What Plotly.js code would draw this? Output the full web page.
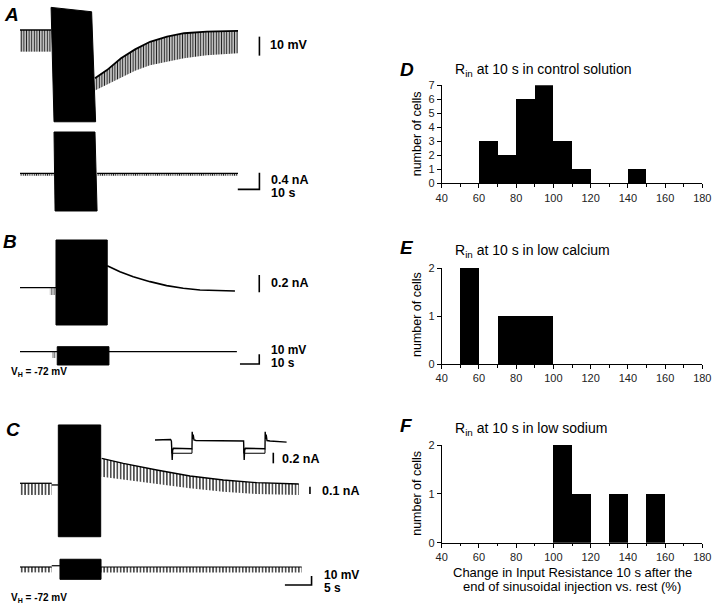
<!DOCTYPE html>
<html><head><meta charset="utf-8">
<script src="https://cdn.plot.ly/plotly-3.0.1.min.js"></script>
<style>html,body{margin:0;padding:0;background:#fff}#chart{width:720px;height:603px}</style>
</head><body><div id="chart"></div>
<script>
// ================= DATA =================
// Histograms D, E, F: change in input resistance (%), bin width 10
const binCenters    = [45,55,65,75,85,95,105,115,125,135,145,155,165,175];
const countsControl = [0,0,3,2,6,7,3,1,0,0,1,0,0,0];
const countsLowCa   = [0,2,0,1,1,1,0,0,0,0,0,0,0,0];
const countsLowNa   = [0,0,0,0,0,0,2,1,0,1,0,1,0,0];
const xTickVals = [40,60,80,100,120,140,160,180];
const yTicksD   = [0,1,2,3,4,5,6,7];
const yTicksEF  = [0,1,2];

// Panel A top: membrane potential (mV rel. to rest) vs time (s)
const aPreT = [0, 14.8];
const aPreTop = [0, 0];
const aPreBot = [-11.4, -11.4];
const aBlockT = [14.8, 34.1, 36.0, 16.2];
const aBlockV = [11.9, 9.6, -48.3, -48.3];
const aPostT   = [35.7, 41.4, 48.1, 54.8, 61.9, 70.0, 78.1, 88.9, 103.8];
const aPostTop = [-25.4, -21.1, -14.9, -10.2, -6.2, -3.5, -1.7, -0.9, -0.5];
const aPostBot = [-31.8, -28.9, -25.2, -21.5, -18.6, -16.7, -14.9, -13.3, -12.3];
const aVBarT = [114, 114], aVBarV = [-3.5, -13.5];
// Panel A bottom: injected current (nA)
const aIPreT = [0, 16.2], aIPostT = [36.7, 103.8];
const aIBase = [0, 0], aIPulse = [-0.06, -0.06];
const aIBlockT = [16.2, 35.7, 36.7, 16.7];
const aIBlockV = [0.995, 0.995, -0.908, -0.908];
const aIBarT = [103.7, 114, 114], aIBarV = [-0.386, -0.386, 0.014];

// Panel B top: current (nA)
const bPreT = [0, 18.65], bPreV = [0, 0];
const bHatchT = [15.5, 18.1], bHatchTop = [0, 0], bHatchBot = [-0.086, -0.086];
const bBlockT = [18.65, 45.2, 45.2, 18.65], bBlockV = [0.561, 0.561, -0.439, -0.439];
const bDecayT = [45.2, 51.8, 58.7, 67.4, 76.0, 84.6, 93.3, 101.9, 111.4];
const bDecayV = [0.259, 0.188, 0.129, 0.071, 0.024, -0.007, -0.027, -0.035, -0.039];
const bIBarT = [124, 124], bIBarV = [0.149, -0.054];
// Panel B bottom: voltage (mV)
const bVT = [0, 112.4], bVV = [0, 0];
const bVHatchT = [16.6, 18.65], bVHatchTop = [0, 0], bVHatchBot = [-6.5, -6.5];
const bVBlockT = [19.3, 46.1, 46.1, 19.3], bVBlockV = [5.15, 5.15, -13.7, -13.7];
const bVBarT = [114, 124, 124], bVBarV = [-12.7, -12.7, -2.7];

// Panel C top: current (nA)
const cPreT = [0, 5.95], cPreTop = [0, 0], cPreBot = [-0.16, -0.16];
const cFlatT = [5.95, 7.19], cFlatV = [-0.023, -0.023];
const cBlockT = [7.19, 15.14, 15.14, 7.19], cBlockV = [0.799, 0.799, -0.732, -0.732];
const cPostT   = [15.33, 19.38, 25.65, 31.89, 38.14, 44.41, 52.3];
const cPostTop = [0.342, 0.274, 0.182, 0.10, 0.045, 0.008, -0.01];
const cPostBot = [0.09, 0.045, -0.01, -0.068, -0.115, -0.147, -0.16];
const cIBarT = [54.4, 54.4], cIBarV = [-0.047, -0.147];
// Panel C inset: expanded current (nA) vs time (ms)
const insetT = [0, 78, 82, 84, 86, 88, 92, 183, 185, 186, 188, 191, 195, 205, 440, 443, 444, 446, 448, 452, 548, 550, 551, 553, 556, 560, 575, 658];
const insetI = [0, 0.01, -0.02, -0.157, -0.377, -0.2, -0.157, -0.165, -0.165, 0.157, 0.02, 0.1, 0.0, -0.01, -0.01, -0.02, -0.157, -0.377, -0.2, -0.157, -0.165, -0.165, 0.157, 0.02, 0.1, -0.01, -0.02, -0.04];
const insetLowT = [84, 84, 185, 185, null, 444, 444, 550, 550];
const insetLowI = [-0.157, -0.25, -0.25, -0.165, null, -0.157, -0.25, -0.25, -0.165];
const insetBarT = [591.5, 591.5], insetBarI = [-0.24, -0.44];
// Panel C bottom: voltage (mV)
const cVPreT = [0, 5.95], cVPostT = [15.2, 52.85];
const cVTop = [0, 0], cVBot = [-6.0, -6.0];
const cVFlatT = [5.95, 7.5], cVFlatV = [1.4, 1.4];
const cVBlockT = [7.5, 15.2, 15.2, 7.5], cVBlockV = [8.6, 8.6, -13.7, -13.7];
const cVBarT = [49.7, 54.7, 54.7], cVBarV = [-20, -20, -10];

// ================= LAYOUT HELPERS =================
const W = 720, H = 603;
const FONT = 'Liberation Sans, Arial, Helvetica, sans-serif';
const dx = (a, b) => [a / W, b / W];
const dy = (top, bot) => [1 - bot / H, 1 - top / H];
const hid = (domain, range) => ({domain, range, visible: false, fixedrange: true});

const traces = [];
function ax(n) { return {xaxis: 'x' + (n === 1 ? '' : n), yaxis: 'y' + (n === 1 ? '' : n)}; }
function band(t, top, bot, n, size, sol, bg) {
  traces.push(Object.assign({type: 'scatter', mode: 'lines',
    x: t.concat(t.slice().reverse()), y: top.concat(bot.slice().reverse()),
    fill: 'toself', fillcolor: bg || 'rgba(255,255,255,0)',
    fillpattern: {shape: '|', size: size, solidity: sol, fgcolor: '#222', bgcolor: bg || 'rgba(255,255,255,0)', fillmode: 'replace'},
    line: {width: 0}, hoverinfo: 'skip'}, ax(n)));
}
function poly(t, v, n) {
  traces.push(Object.assign({type: 'scatter', mode: 'lines', x: t.concat([t[0]]), y: v.concat([v[0]]),
    fill: 'toself', fillcolor: '#000', line: {color: '#000', width: 1}, hoverinfo: 'skip'}, ax(n)));
}
function line(t, v, n, w) {
  traces.push(Object.assign({type: 'scatter', mode: 'lines', x: t, y: v, connectgaps: false,
    line: {color: '#000', width: w || 1.3}, hoverinfo: 'skip'}, ax(n)));
}

// Panel A
band(aPreT, aPreTop, aPreBot, 1, 2.6, 0.42, '#d6d6d6');
line(aPreT, aPreTop, 1, 1.5);
band(aPostT, aPostTop, aPostBot, 1, 2.6, 0.42, '#d6d6d6');
line(aPostT, aPostTop, 1, 1.8);
poly(aBlockT, aBlockV, 1);
line(aVBarT, aVBarV, 1, 1.6);
band(aIPreT, aIBase, aIPulse, 2, 2.2, 0.5);
band(aIPostT, aIBase, aIPulse, 2, 2.2, 0.5);
line(aIPreT, aIBase, 2, 1.2);
line(aIPostT, aIBase, 2, 1.2);
poly(aIBlockT, aIBlockV, 2);
line(aIBarT, aIBarV, 2, 1.6);
// Panel B
line(bPreT, bPreV, 3, 1.3);
band(bHatchT, bHatchTop, bHatchBot, 3, 2.2, 0.45);
poly(bBlockT, bBlockV, 3);
line(bDecayT, bDecayV, 3, 1.6);
line(bIBarT, bIBarV, 3, 1.6);
line(bVT, bVV, 4, 1.3);
band(bVHatchT, bVHatchTop, bVHatchBot, 4, 2.2, 0.45);
poly(bVBlockT, bVBlockV, 4);
line(bVBarT, bVBarV, 4, 1.6);
// Panel C
band(cPreT, cPreTop, cPreBot, 5, 3.4, 0.4);
line(cPreT, cPreTop, 5, 1.3);
line(cFlatT, cFlatV, 5, 1.3);
poly(cBlockT, cBlockV, 5);
band(cPostT, cPostTop, cPostBot, 5, 3.3, 0.4);
line(cPostT, cPostTop, 5, 1.3);
line(cIBarT, cIBarV, 5, 1.6);
line(insetT, insetI, 6, 1.4);
line(insetLowT, insetLowI, 6, 1.0);
line(insetBarT, insetBarI, 6, 1.6);
band(cVPreT, cVTop, cVBot, 7, 3.4, 0.4);
band(cVPostT, cVTop, cVBot, 7, 3.3, 0.4);
line(cVPreT, cVTop, 7, 1.2);
line(cVPostT, cVTop, 7, 1.2);
line(cVFlatT, cVFlatV, 7, 1.2);
poly(cVBlockT, cVBlockV, 7);
line(cVBarT, cVBarV, 7, 1.6);

// Histograms
function hist(counts, n) {
  const xs = [], ys = [];
  counts.forEach((c, i) => { if (c > 0) { xs.push(binCenters[i]); ys.push(c); } });
  traces.push(Object.assign({type: 'bar', x: xs, y: ys, width: 10,
    marker: {color: '#000', line: {width: 0}}, hoverinfo: 'skip'}, ax(n)));
}
hist(countsControl, 8);
hist(countsLowCa, 9);
hist(countsLowNa, 10);

const tickFont = {family: FONT, size: 11, color: '#222'};
function hx(n) {
  return {domain: dx(441.7, 702.3), range: [40, 180], anchor: 'y' + n, tickvals: xTickVals,
    ticks: 'outside', ticklen: 4, tickwidth: 1, tickcolor: '#000', showline: true, linecolor: '#000', linewidth: 1,
    showgrid: false, zeroline: false, tickfont: tickFont, fixedrange: true,
    minor: {tick0: 40, dtick: 10, ticks: 'outside', ticklen: 2.5, tickcolor: '#000', showgrid: false}};
}
function hy(n, dom, ymax, tv) {
  return {domain: dom, range: [0, ymax], anchor: 'x' + n, tickvals: tv,
    ticks: 'outside', ticklen: 4, tickwidth: 1, tickcolor: '#000', showline: true, linecolor: '#000', linewidth: 1,
    showgrid: false, zeroline: false, tickfont: tickFont, fixedrange: true};
}

function ann(text, px, py, size, opts) {
  return Object.assign({xref: 'paper', yref: 'paper', x: px / W, y: 1 - py / H, text: text,
    showarrow: false, xanchor: 'left', yanchor: 'middle', borderpad: 0, font: {family: FONT, size: size, color: '#000'}}, opts || {});
}
const annotations = [
  ann('<b><i>A</i></b>', 3, 14, 19),
  ann('<b><i>B</i></b>', 2, 242, 19),
  ann('<b><i>C</i></b>', 5, 429, 19),
  ann('<b><i>D</i></b>', 399, 69, 19),
  ann('<b><i>E</i></b>', 399, 247, 19),
  ann('<b><i>F</i></b>', 399, 425, 19),
  ann('<b>10 mV</b>', 269, 45, 12.5),
  ann('<b>0.4 nA</b>', 270, 179.5, 12.5),
  ann('<b>10 s</b>', 270, 193.5, 12.5),
  ann('<b>0.2 nA</b>', 270, 283, 12.5),
  ann('<b>10 mV</b>', 270, 350, 12),
  ann('<b>10 s</b>', 270, 363.3, 12),
  ann('<b>V<sub>H</sub> = -72 mV</b>', 10, 372, 10),
  ann('<b>0.2 nA</b>', 280.5, 458.5, 12.5),
  ann('<b>0.1 nA</b>', 321, 490.5, 12.5),
  ann('<b>10 mV</b>', 322.5, 575, 12),
  ann('<b>5 s</b>', 322.5, 588.3, 12),
  ann('<b>V<sub>H</sub> = -72 mV</b>', 10, 597.5, 10),
  ann('R<sub>in</sub> at 10 s in control solution', 454, 70, 14),
  ann('R<sub>in</sub> at 10 s in low calcium', 454, 251.5, 14),
  ann('R<sub>in</sub> at 10 s in low sodium', 454, 428.5, 14),
  ann('number of cells', 417, 134.3, 12.5, {xanchor: 'center', textangle: -90}),
  ann('number of cells', 417, 315, 12.5, {xanchor: 'center', textangle: -90}),
  ann('number of cells', 417, 493.8, 12.5, {xanchor: 'center', textangle: -90}),
  ann('Change in Input Resistance 10 s after the', 572, 572, 13, {xanchor: 'center'}),
  ann('end of sinusoidal injection vs. rest (%)', 572, 586.5, 13, {xanchor: 'center'})
];

const layout = {
  width: W, height: H, margin: {l: 0, r: 0, t: 0, b: 0}, showlegend: false,
  paper_bgcolor: '#fff', plot_bgcolor: 'rgba(0,0,0,0)', bargap: 0,
  font: {family: FONT, color: '#000'},
  xaxis:  hid(dx(20, 280), [0, 123.8]),  yaxis:  hid(dy(0, 130), [-52.63, 15.79]),
  xaxis2: hid(dx(20, 280), [0, 123.8]),  yaxis2: hid(dy(125, 220), [-1.125, 1.164]),
  xaxis3: hid(dx(20, 272), [0, 130.6]),  yaxis3: hid(dy(235, 330), [-0.498, 0.62]),
  xaxis4: hid(dx(20, 272), [0, 130.6]),  yaxis4: hid(dy(340, 370), [-18.87, 12.06]),
  xaxis5: hid(dx(20, 330), [0, 58.16]),  yaxis5: hid(dy(420, 540), [-0.777, 0.867]),
  xaxis6: hid(dx(150, 300), [-25, 725]), yaxis6: hid(dy(425, 470), [-0.566, 0.283]),
  xaxis7: hid(dx(20, 330), [0, 58.16]),  yaxis7: hid(dy(555, 590), [-25.56, 13.33]),
  xaxis8: hx(8),  yaxis8: hy(8, dy(85.3, 183.3), 7, yTicksD),
  xaxis9: hx(9),  yaxis9: hy(9, dy(268, 364), 2, yTicksEF),
  xaxis10: hx(10), yaxis10: hy(10, dy(445, 542.7), 2, yTicksEF),
  annotations: annotations
};
for (let i = 1; i <= 7; i++) {
  const s = i === 1 ? '' : i;
  layout['xaxis' + s].anchor = 'y' + s;
  layout['yaxis' + s].anchor = 'x' + s;
}
Plotly.newPlot('chart', traces, layout, {staticPlot: true, displayModeBar: false});
</script></body></html>
